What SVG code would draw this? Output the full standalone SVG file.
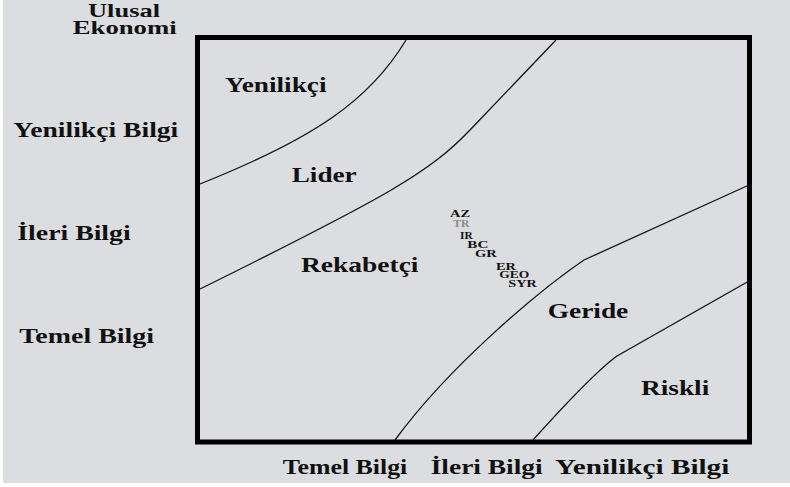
<svg xmlns="http://www.w3.org/2000/svg" width="790" height="487" viewBox="0 0 790 487">
<style>
text{font-family:"Liberation Serif","Times New Roman",serif;font-weight:bold;fill:#111;}
.ax{font-size:20px;}
.hd{font-size:19px;}
.rg{font-size:22px;}
.sm{font-size:11px;}
.cv{fill:none;stroke:#111;stroke-width:1.3;}
</style>
<rect x="0" y="0" width="790" height="487" fill="#ffffff"/>
<rect x="3" y="0" width="787" height="483" fill="#dcdde0"/>
<g id="curves">
<path class="cv" d="M406,40 C370,100 315,138 200,184"/>
<path class="cv" d="M556,40 L470,130 C430,172 390,195 200,289"/>
<path class="cv" d="M749,185 L584,260 C540,290 450,365 395,440"/>
<path class="cv" d="M749,281 L617,356 C595,372 560,410 533,440"/>
</g>
<rect id="frame" x="197.5" y="37.5" width="552" height="404.5" fill="none" stroke="#000" stroke-width="5"/>
<g id="axis-y">
<text class="hd" x="88" y="16.5" textLength="72" lengthAdjust="spacingAndGlyphs">Ulusal</text>
<text class="hd" x="72.7" y="34" textLength="104" lengthAdjust="spacingAndGlyphs">Ekonomi</text>
<text class="ax" x="13.3" y="136.7" textLength="165" lengthAdjust="spacingAndGlyphs">Yenilikçi Bilgi</text>
<text class="ax" x="17.3" y="240" textLength="113.4" lengthAdjust="spacingAndGlyphs">İleri Bilgi</text>
<text class="ax" x="19.3" y="343.3" textLength="134.7" lengthAdjust="spacingAndGlyphs">Temel Bilgi</text>
</g>
<g id="axis-x">
<text class="ax" x="282.7" y="474" textLength="124.6" lengthAdjust="spacingAndGlyphs">Temel Bilgi</text>
<text class="ax" x="430.7" y="474" textLength="112" lengthAdjust="spacingAndGlyphs">İleri Bilgi</text>
<text class="ax" x="555" y="474" textLength="174.3" lengthAdjust="spacingAndGlyphs">Yenilikçi Bilgi</text>
</g>
<g id="regions">
<text id="yenilikci" class="rg" x="225" y="92.3" textLength="101.5" lengthAdjust="spacingAndGlyphs">Yenilikçi</text>
<text id="lider" class="rg" x="291.7" y="181.7" textLength="65" lengthAdjust="spacingAndGlyphs">Lider</text>
<text id="rekabetci" class="rg" x="301" y="271.7" textLength="117.5" lengthAdjust="spacingAndGlyphs">Rekabetçi</text>
<text id="geride" class="rg" x="547.7" y="318.3" textLength="80.6" lengthAdjust="spacingAndGlyphs">Geride</text>
<text id="riskli" class="rg" x="641" y="395" textLength="68.3" lengthAdjust="spacingAndGlyphs">Riskli</text>
</g>
<g id="countries">
<text class="sm" x="450" y="217.3" textLength="20" lengthAdjust="spacingAndGlyphs">AZ</text>
<text class="sm" x="453.3" y="226.7" textLength="16" lengthAdjust="spacingAndGlyphs" style="fill:#8a8a8a">TR</text>
<text class="sm" x="460" y="239.3" textLength="12.7" lengthAdjust="spacingAndGlyphs">IR</text>
<text class="sm" x="467.3" y="248.3" textLength="21" lengthAdjust="spacingAndGlyphs">BC</text>
<text class="sm" x="475" y="257.3" textLength="21.7" lengthAdjust="spacingAndGlyphs">GR</text>
<text class="sm" x="496" y="270" textLength="20" lengthAdjust="spacingAndGlyphs">ER</text>
<text class="sm" x="499.3" y="278.3" textLength="30" lengthAdjust="spacingAndGlyphs">GEO</text>
<text class="sm" x="508.3" y="287.3" textLength="28.4" lengthAdjust="spacingAndGlyphs">SYR</text>
</g>
</svg>
